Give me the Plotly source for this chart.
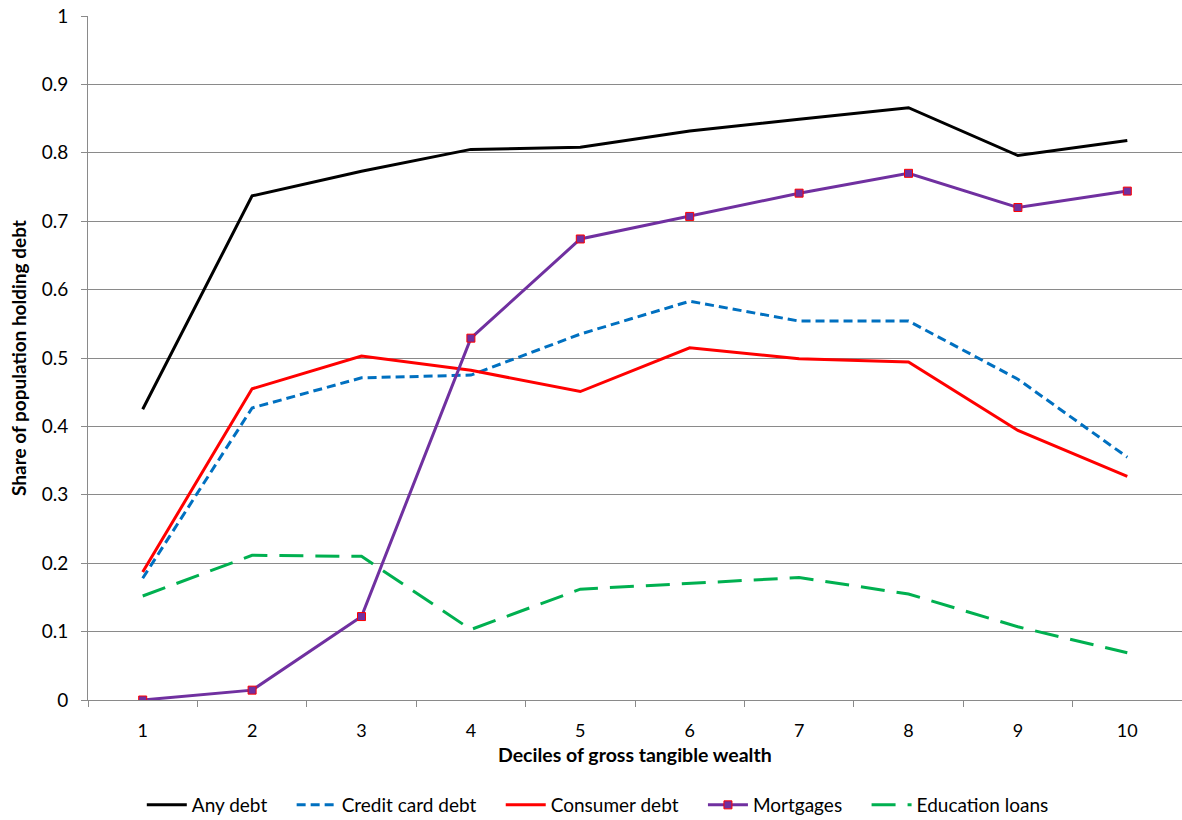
import plotly.graph_objects as go

deciles = ["1", "2", "3", "4", "5", "6", "7", "8", "9", "10"]
any_debt = [0.425, 0.737, 0.773, 0.805, 0.808, 0.832, 0.849, 0.866, 0.796, 0.818]
credit_card = [0.178, 0.427, 0.471, 0.475, 0.535, 0.583, 0.554, 0.554, 0.469, 0.355]
consumer = [0.187, 0.455, 0.503, 0.482, 0.451, 0.515, 0.499, 0.494, 0.394, 0.327]
mortgages = [0.0, 0.0144, 0.122, 0.529, 0.674, 0.707, 0.741, 0.770, 0.720, 0.744]
education = [0.152, 0.2115, 0.21, 0.103, 0.162, 0.171, 0.179, 0.155, 0.107, 0.069]
y_ticks = [0, 0.1, 0.2, 0.3, 0.4, 0.5, 0.6, 0.7, 0.8, 0.9, 1]
y_tick_text = ["0", "0.1", "0.2", "0.3", "0.4", "0.5", "0.6", "0.7", "0.8", "0.9", "1"]
x_title = "Deciles of gross tangible wealth"
y_title = "Share of population holding debt"

FONT = "Lato"
GRID = "#8a8a8a"
PAD = "\u00a0" * 4  # extra spacing between legend entries

fig = go.Figure()
fig.add_trace(go.Scatter(x=deciles, y=any_debt, name="Any debt" + PAD, mode="lines",
                         line=dict(color="#000000", width=3)))
fig.add_trace(go.Scatter(x=deciles, y=credit_card, name="Credit card debt" + PAD, mode="lines",
                         line=dict(color="#0070C0", width=3, dash="9px,5px")))
fig.add_trace(go.Scatter(x=deciles, y=consumer, name="Consumer debt" + PAD, mode="lines",
                         line=dict(color="#FF0000", width=3)))
fig.add_trace(go.Scatter(x=deciles, y=mortgages, name="Mortgages" + PAD, mode="lines+markers",
                         line=dict(color="#7030A0", width=3),
                         marker=dict(symbol="square", size=8, color="#7030A0",
                                     line=dict(color="#FF0000", width=1))))
fig.add_trace(go.Scatter(x=deciles, y=education, name="Education loans", mode="lines",
                         line=dict(color="#00B050", width=3, dash="24px,12px")))

fig.update_layout(
    width=1182, height=820,
    margin=dict(l=88, r=0, t=16, b=120, autoexpand=False),
    paper_bgcolor="white", plot_bgcolor="white",
    font=dict(family=FONT, size=18, color="#000000"),
    showlegend=True,
    legend=dict(orientation="h", x=0.466, xanchor="center", y=-0.1535, yanchor="middle",
                font=dict(family=FONT, size=19), itemwidth=40, traceorder="normal"),
    annotations=[
        dict(text="<b>" + x_title + "</b>", xref="paper", yref="paper",
             x=0.5, y=-0.080, xanchor="center", yanchor="middle", showarrow=False,
             font=dict(family=FONT, size=19.5)),
        dict(text="<b>" + y_title + "</b>", xref="paper", yref="paper",
             x=-(88 - 18) / 1094, y=0.5, xanchor="center", yanchor="middle", showarrow=False,
             textangle=-90, font=dict(family=FONT, size=19)),
    ],
)
fig.update_xaxes(
    type="category", categoryorder="array", categoryarray=deciles,
    range=[-0.5, 9.5], tickson="boundaries", automargin=False,
    ticks="outside", ticklen=6, tickcolor=GRID, ticklabelstandoff=14,
    showline=True, linecolor=GRID, linewidth=1,
    showgrid=False, zeroline=False,
    tickfont=dict(family=FONT, size=18),
)
fig.update_yaxes(
    range=[0, 1], tickvals=y_ticks, ticktext=y_tick_text, automargin=False,
    ticks="outside", ticklen=6, tickcolor=GRID, ticklabelstandoff=9,
    showline=True, linecolor=GRID, linewidth=1,
    showgrid=True, gridcolor=GRID, gridwidth=1, zeroline=False,
    tickfont=dict(family=FONT, size=19),
)

# remove the default 8px page margin so the figure fills the 1182x820 window exactly
fig.write_html("out.html", config={"displayModeBar": False},
               post_script="document.body.style.margin='0';")
